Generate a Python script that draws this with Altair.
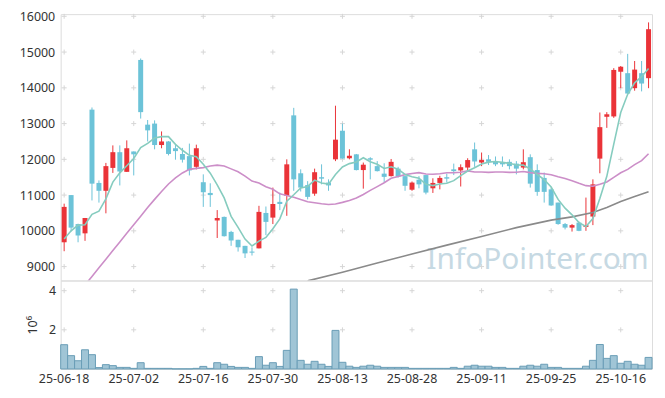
import altair as alt
import pandas as pd

dates = ["25-06-18","25-06-19","25-06-20","25-06-23","25-06-24","25-06-25","25-06-26","25-06-27","25-06-30",
         "25-07-01","25-07-02","25-07-03","25-07-04","25-07-07","25-07-08","25-07-09","25-07-10","25-07-11",
         "25-07-14","25-07-15","25-07-16","25-07-17","25-07-18","25-07-21","25-07-22","25-07-23","25-07-24",
         "25-07-25","25-07-28","25-07-29","25-07-30","25-07-31","25-08-01","25-08-04","25-08-05","25-08-06",
         "25-08-07","25-08-08","25-08-11","25-08-12","25-08-13","25-08-14","25-08-18","25-08-19","25-08-20",
         "25-08-21","25-08-22","25-08-25","25-08-26","25-08-27","25-08-28","25-08-29","25-09-01","25-09-02",
         "25-09-03","25-09-04","25-09-05","25-09-08","25-09-09","25-09-10","25-09-11","25-09-12","25-09-15",
         "25-09-16","25-09-17","25-09-18","25-09-19","25-09-22","25-09-23","25-09-24","25-09-25","25-09-26",
         "25-09-29","25-09-30","25-10-01","25-10-02","25-10-10","25-10-13","25-10-14","25-10-15","25-10-16",
         "25-10-17","25-10-20","25-10-21","25-10-22"]

opens = [9680,11000,10190,9930,13390,11340,11120,11760,12200,11650,12220,14780,12970,13000,12400,12500,12310,12150,
         12090,11790,11360,11060,10290,10390,9970,9750,9580,9420,9510,10500,10370,10810,10980,13230,11610,11280,
         11040,11500,11350,12000,12800,12030,12140,11700,12030,11810,11600,11530,11740,11530,11150,11430,11560,
         11190,11340,11500,11720,11690,11770,12280,11910,12000,11940,11920,11930,11880,11770,12060,11700,11480,
         11160,10790,10190,10090,10230,10110,10400,12020,13190,13200,14450,14410,13990,14410,14270]
highs = [10760,11000,10200,10360,13450,11410,11900,12390,12390,12530,12220,14820,13100,13090,12780,12510,12400,12320,
         12440,12410,11580,11330,10580,10400,10000,9750,9580,9540,10700,10680,11210,11070,12000,13440,11720,11390,
         11740,11860,11440,13500,13000,12280,12150,11910,12060,11950,11890,12010,11790,11540,11380,11530,11560,
         11470,11540,11600,11880,11860,12030,12470,12190,12120,12080,12080,12000,11950,12280,12140,11860,11630,
         11210,10790,10220,10190,10260,10930,11440,13310,13320,14550,14610,14950,14750,14750,15830]
lows = [9430,9980,9680,9720,10850,10790,10490,11620,11270,11650,11550,13140,12500,12280,12310,12110,11990,11910,
        11550,11720,10670,10670,9800,9840,9580,9420,9240,9310,9510,9880,10190,10580,10420,11120,11100,10880,
        10980,11300,11120,11950,12020,12000,11690,11180,11440,11660,11350,11520,11490,11120,11120,11190,11020,
        11060,11160,11350,11560,11240,11690,11790,11810,11840,11810,11790,11720,11580,11720,11210,10980,10790,
        10700,10170,10040,9980,9990,10000,10160,11610,12880,13160,13990,13840,13920,13900,13990]
closes = [10670,10090,9870,10360,11320,11120,11810,12200,11660,12310,12140,13320,12810,12400,12500,12150,12230,11990,
          11690,12310,11080,11000,10360,9850,9730,9540,9370,9390,10530,10250,10750,10750,11860,11440,11210,10950,
          11640,11460,11270,12550,12020,12100,11700,11850,11990,11670,11510,11930,11520,11260,11350,11300,11070,
          11340,11480,11460,11670,11780,11980,11940,11980,11930,11860,11860,11810,11740,11920,11320,11090,11090,
          10710,10190,10090,10160,10000,10160,11300,12900,13260,14500,14590,13840,14510,14120,15640]
volumes = [1240000,680000,420000,980000,730000,70000,220000,170000,80000,80000,30000,320000,30000,30000,30000,30000,
           5000,5000,5000,30000,130000,30000,320000,240000,130000,80000,80000,30000,630000,190000,320000,130000,
           950000,4080000,440000,240000,390000,240000,130000,1970000,340000,140000,80000,140000,190000,140000,
           80000,80000,80000,80000,30000,30000,30000,30000,30000,30000,80000,30000,140000,190000,140000,140000,
           80000,80000,30000,30000,140000,190000,140000,240000,80000,80000,30000,30000,30000,140000,440000,
           1250000,540000,680000,290000,390000,240000,190000,590000]

ma5 = [9770,10000,10160,10170,10462,10552,10896,11362,11622,11820,12024,12326,12448,12596,12634,12636,12418,12254,
       12112,12074,11860,11614,11288,10920,10404,10096,9770,9576,9712,9816,10058,10334,10828,11010,11202,11242,
       11420,11340,11306,11574,11788,11880,11928,12044,11932,11862,11744,11790,11724,11578,11514,11472,11300,
       11264,11308,11330,11404,11546,11674,11766,11870,11922,11938,11914,11888,11840,11838,11730,11576,11432,
       11226,10880,10634,10448,10230,10120,10342,10904,11524,12424,13310,13818,14140,14312,14540]
ma20_start = 3
ma20 = [8485,8725,8965,9205,9450,9690,9930,10170,10410,10650,10880,11100,11310,11480,11620,11720,11748,11768,
        11814,11838,11813,11733,11654,11532,11392,11335,11232,11163,11034,10987,10939,10874,10814,10785,10758,
        10737,10749,10796,10851,10918,11018,11131,11238,11345,11472,11521,11572,11602,11629,11590,11585,11598,
        11624,11625,11641,11677,11646,11644,11636,11644,11644,11635,11639,11659,11629,11607,11599,11567,11511,
        11462,11403,11329,11264,11246,11302,11366,11494,11624,11720,11852,11965,12157]
ma_long_idx = [35,40,45,50,55,60,65,70,73,76,78,80,82,84]
ma_long = [8600,8840,9100,9350,9600,9840,10090,10300,10390,10510,10650,10820,10960,11090]

price_ticks = [9000,10000,11000,12000,13000,14000,15000,16000]
vol_ticks = [2,4]
label_dates = ["25-06-18","25-07-02","25-07-16","25-07-30","25-08-13","25-08-28","25-09-11","25-09-25","25-10-16"]
watermark = "InfoPointer.com"

RED = "#ea3338"
BLUE = "#6cc3d8"
FONT = "Noto Sans"
P_DOMAIN = [8611, 16061]
V_DOMAIN = [0, 4.52]
W = 595

df = pd.DataFrame({"date": dates, "open": opens, "high": highs, "low": lows,
                   "close": closes, "volume": volumes, "ma5": ma5})
df20 = pd.DataFrame({"date": dates[ma20_start:], "ma20": ma20})
dfl = pd.DataFrame({"date": [dates[i] for i in ma_long_idx], "mal": ma_long})
grid_p = pd.DataFrame([{"date": d, "v": v} for d in label_dates for v in price_ticks])
grid_v = pd.DataFrame([{"date": d, "v": v} for d in label_dates for v in vol_ticks])

xs = alt.Scale(domain=dates, paddingInner=0, paddingOuter=0)
x_price = alt.X("date:O", scale=xs, axis=None)
ys = alt.Scale(domain=P_DOMAIN, nice=False, zero=False)
y_axis = alt.Axis(values=price_ticks, format="d", grid=False, ticks=False, domain=False, labelPadding=6,
                  labelFontSize=12.5, labelOverlap=False, labelColor="#333333", labelFont=FONT, title=None)
cross = "M-1,0H1M0,-1V1"
color_cond = alt.condition("datum.open > datum.close", alt.value(BLUE), alt.value(RED))

base = alt.Chart(df)

gp = alt.Chart(grid_p).mark_point(shape=cross, size=25, strokeWidth=1, color="#d6d6d6",
                                  filled=False, opacity=1).encode(
    x=x_price, y=alt.Y("v:Q", scale=ys, axis=y_axis))

wm = alt.Chart(pd.DataFrame({"t": [watermark]})).mark_text(
    align="left", baseline="alphabetic", fontSize=30, font=FONT, color="#c6d9e3"
).encode(x=alt.value(368), y=alt.value(256), text="t:N")

wick = base.mark_rule(strokeWidth=1).encode(
    x=x_price, y=alt.Y("low:Q", scale=ys, axis=y_axis), y2="high:Q", color=color_cond)
body = base.mark_bar(width=5).encode(
    x=x_price, y=alt.Y("open:Q", scale=ys, axis=y_axis), y2="close:Q", color=color_cond)

l20 = alt.Chart(df20).mark_line(color="#cc8ec8", strokeWidth=1.6, clip=True).encode(
    x=x_price, y=alt.Y("ma20:Q", scale=ys, axis=y_axis))
lL = alt.Chart(dfl).mark_line(color="#8a8a8a", strokeWidth=1.6, clip=True).encode(
    x=x_price, y=alt.Y("mal:Q", scale=ys, axis=y_axis))
l5 = base.mark_line(color="#86ccbf", strokeWidth=1.6, clip=True).encode(
    x=x_price, y=alt.Y("ma5:Q", scale=ys, axis=y_axis))

price = alt.layer(gp, wm, wick, body, l20, lL, l5).properties(width=W, height=268)

vs = alt.Scale(domain=V_DOMAIN, nice=False)
x_vol = alt.X("date:O", scale=xs,
              axis=alt.Axis(values=label_dates, labelAngle=0, labelAlign="center", labelBaseline="top",
                            ticks=False, domain=False, grid=False, labelOverlap=False,
                            labelFontSize=12.5, labelColor="#333333", labelFont=FONT, labelPadding=4,
                            title=None))
v_axis = alt.Axis(values=vol_ticks, grid=False, ticks=False, domain=False, labelPadding=5,
                  labelFontSize=12.5, labelColor="#333333", labelFont=FONT, labelOverlap=False,
                  title="10⁶", titleFont=FONT, titleFontSize=12.5,
                  titleFontWeight="normal", titleColor="#333333", titlePadding=9)
gv = alt.Chart(grid_v).mark_point(shape=cross, size=25, strokeWidth=1, color="#d6d6d6",
                                  filled=False, opacity=1).encode(
    x=x_vol, y=alt.Y("v:Q", scale=vs, axis=v_axis))
vbars = base.transform_calculate(vm="datum.volume / 1000000").mark_bar(
    color="#a0c5d6", stroke="#6a9db6", strokeWidth=1
).encode(x=x_vol, y=alt.Y("vm:Q", scale=vs, axis=v_axis))

vol = alt.layer(gv, vbars).properties(width=W, height=89)

chart = alt.vconcat(price, vol, spacing=0, bounds="flush").properties(
    padding={"left": 10, "top": 0, "right": 4, "bottom": 4}
).configure_view(stroke="#e3e3e3").configure(font=FONT)

chart.save("out.html", embed_options={"renderer": "svg", "actions": False})
